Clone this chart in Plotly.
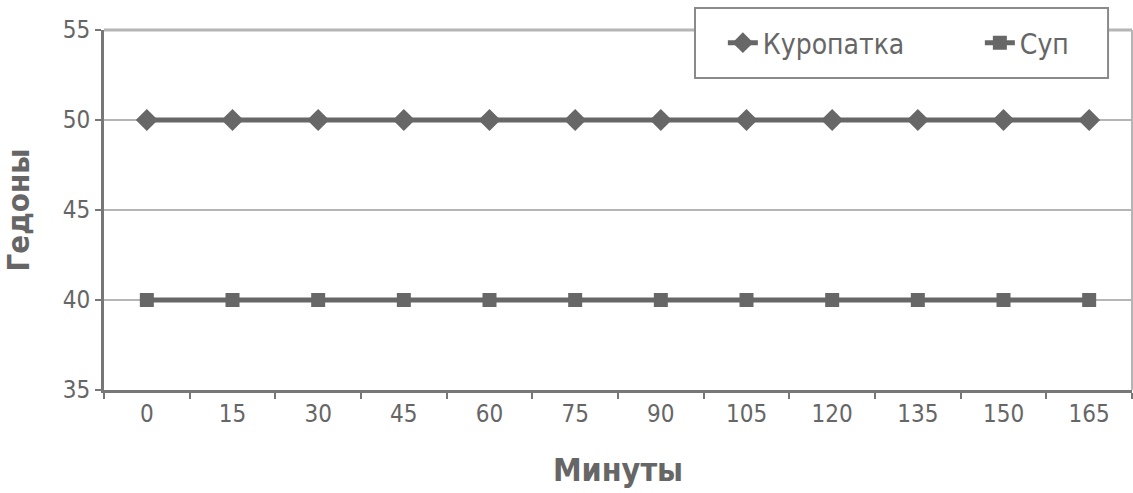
import plotly.graph_objects as go

# Minutes and hedonic value per meal
minutes = ["0", "15", "30", "45", "60", "75", "90", "105", "120", "135", "150", "165"]
partridge = [50, 50, 50, 50, 50, 50, 50, 50, 50, 50, 50, 50]
soup = [40, 40, 40, 40, 40, 40, 40, 40, 40, 40, 40, 40]

FONT = "DejaVu Sans Condensed, Roboto, sans-serif"
TEXT = "#666666"
LINE = "#676767"

fig = go.Figure()
fig.add_trace(go.Scatter(
    x=minutes, y=partridge, name="Куропатка", mode="lines+markers",
    line=dict(color=LINE, width=5),
    marker=dict(symbol="diamond", size=17, color=LINE),
))
fig.add_trace(go.Scatter(
    x=minutes, y=soup, name="Суп", mode="lines+markers",
    line=dict(color=LINE, width=5),
    marker=dict(symbol="square", size=14, color=LINE),
))

fig.update_layout(
    width=1133, height=493,
    margin=dict(l=104, r=1, t=30, b=103, autoexpand=False),
    paper_bgcolor="white", plot_bgcolor="white",
    font=dict(family=FONT, color=TEXT, size=24),
    showlegend=True,
    legend=dict(
        orientation="h", x=0.602, xanchor="left", y=0.964, yanchor="middle",
        bgcolor="rgba(0,0,0,0)", borderwidth=0,
        font=dict(family=FONT, size=28, color=TEXT),
        entrywidth=212, entrywidthmode="pixels",
    ),
    xaxis=dict(
        type="category", range=[-0.5, 11.5],
        tickson="boundaries", ticks="outside", ticklen=6, tickwidth=2, tickcolor="#777777",
        showline=True, linecolor="#777777", linewidth=3,
        showgrid=False, zeroline=False,
        tickfont=dict(family=FONT, size=24, color=TEXT),
        title=dict(text="<b>Минуты</b>", font=dict(family=FONT, size=32, color=TEXT), standoff=32),
    ),
    yaxis=dict(
        range=[35, 55], dtick=5, tick0=35,
        ticks="outside", ticklen=6, tickwidth=2, tickcolor="#777777",
        showline=True, linecolor="#777777", linewidth=3,
        showgrid=True, gridcolor="#b5b5b5", gridwidth=2,
        zeroline=False,
        tickfont=dict(family=FONT, size=24, color=TEXT),
        title=dict(text="<b>Гедоны</b>", font=dict(family=FONT, size=31, color=TEXT), standoff=24),
    ),
)

# Light frame on the top and right sides of the plot area
fig.add_shape(type="line", xref="paper", yref="paper", x0=0, x1=1, y0=1, y1=1,
              line=dict(color="#b5b5b5", width=3), layer="below")
fig.add_shape(type="line", xref="paper", yref="paper", x0=1, x1=1, y0=0, y1=1,
              line=dict(color="#b5b5b5", width=2), layer="below")
# Legend box
fig.add_shape(type="rect", xref="paper", yref="paper", x0=0.5749, x1=0.9767, y0=0.8667, y1=1.0611,
              line=dict(color="#8a8a8a", width=2), fillcolor="white", layer="above")

fig.write_html("out.html")
